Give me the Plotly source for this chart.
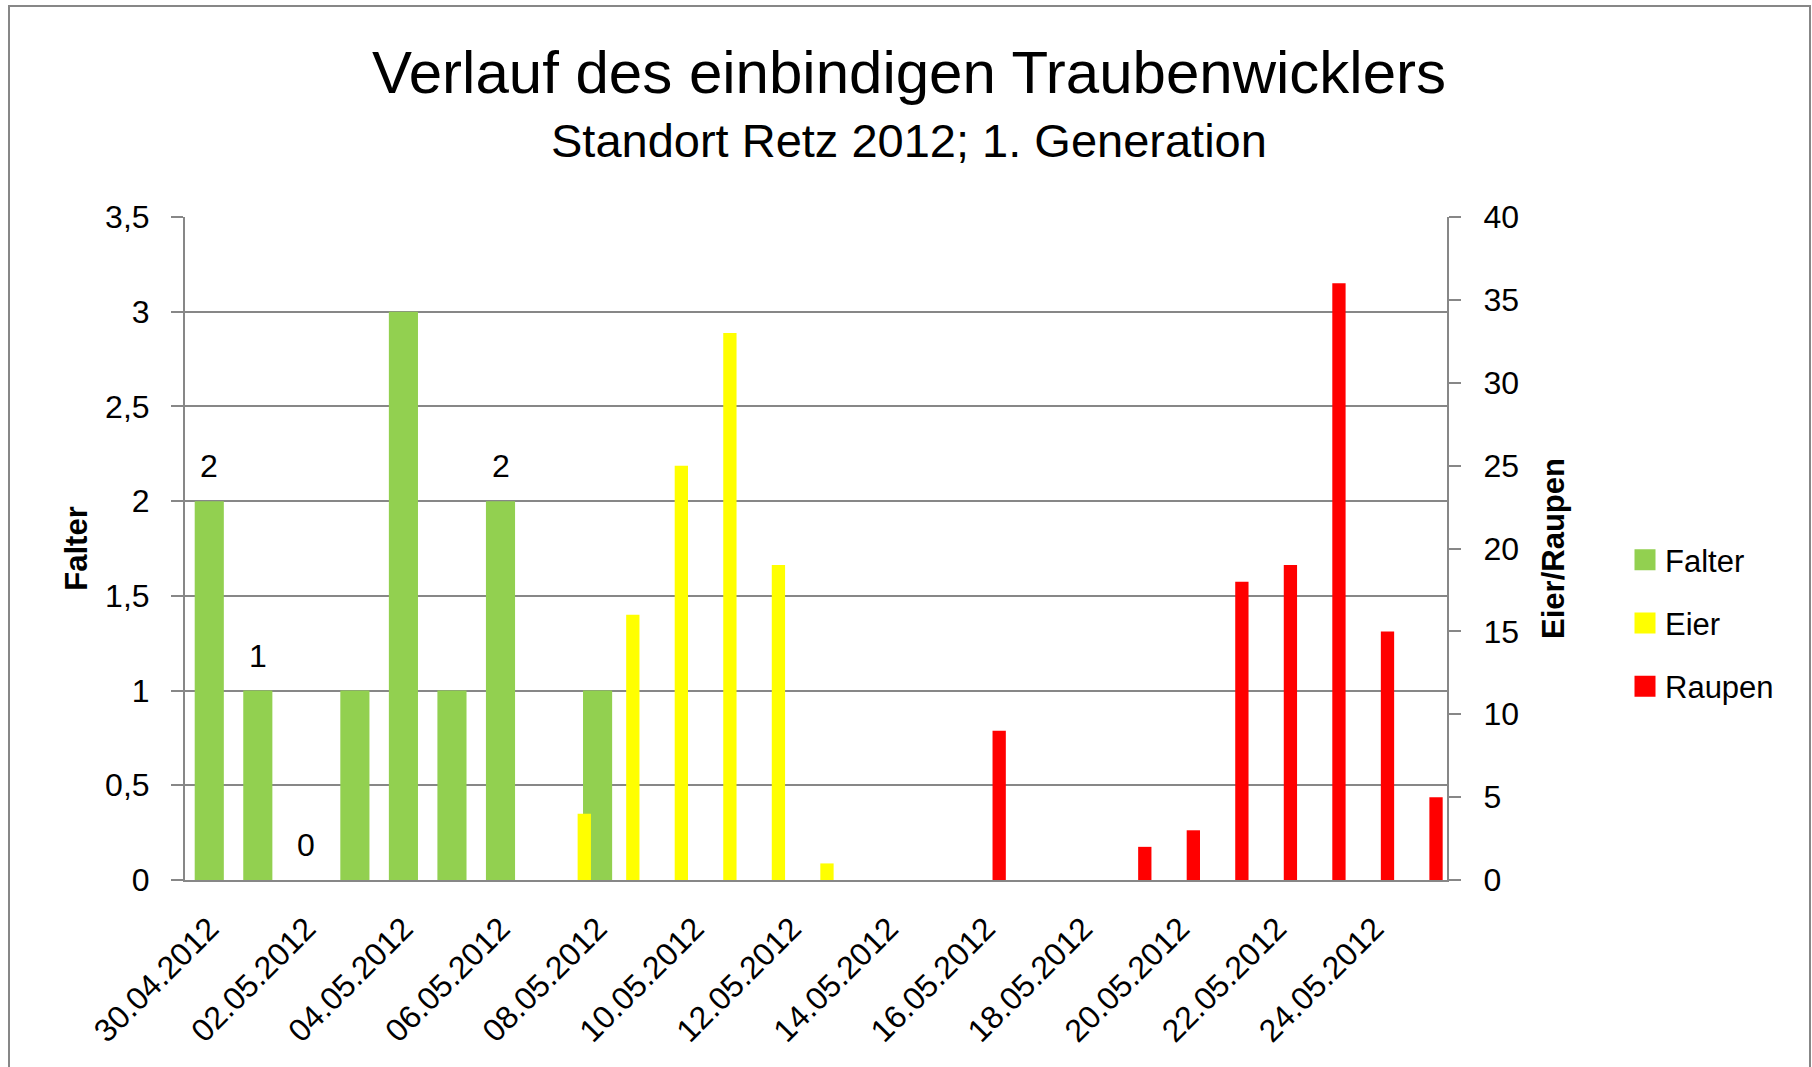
import plotly.graph_objects as go

# ---------------- data ----------------
dates = ["30.04.2012", "01.05.2012", "02.05.2012", "03.05.2012", "04.05.2012",
         "05.05.2012", "06.05.2012", "07.05.2012", "08.05.2012", "09.05.2012",
         "10.05.2012", "11.05.2012", "12.05.2012", "13.05.2012", "14.05.2012",
         "15.05.2012", "16.05.2012", "17.05.2012", "18.05.2012", "19.05.2012",
         "20.05.2012", "21.05.2012", "22.05.2012", "23.05.2012", "24.05.2012",
         "25.05.2012"]
tick_labels = ["30.04.2012", "02.05.2012", "04.05.2012", "06.05.2012", "08.05.2012",
               "10.05.2012", "12.05.2012", "14.05.2012", "16.05.2012", "18.05.2012",
               "20.05.2012", "22.05.2012", "24.05.2012"]
falter = [2, 1, 0, 1, 3, 1, 2, None, 1, None, None, None, None,
          None, None, None, None, None, None, None, None, None, None, None, None, None]
eier = [None, None, None, None, None, None, None, None, 4, 16, 25, 33, 19,
        1, None, None, None, None, None, None, None, None, None, None, None, None]
raupen = [None, None, None, None, None, None, None, None, None, None, None, None, None,
          None, None, None, 9, None, None, 2, 3, 18, 19, 36, 15, 5]
labelled_dates = ["30.04.2012", "01.05.2012", "02.05.2012", "06.05.2012"]
series_names = ["Falter", "Eier", "Raupen"]
colors = ["#92D050", "#FFFF00", "#FF0000"]

# ---------------- layout constants ----------------
W, H = 1812, 1067
L, R, T, B = 185, 365, 217, 187
PW, PH = W - L - R, H - T - B
GRID = "#878787"
FONT = "Liberation Sans, Arial, sans-serif"


def px_x(px):
    return (px - L) / PW


def px_y(py):
    return (H - B - py) / PH


fig = go.Figure()

fig.add_trace(go.Bar(x=dates, y=falter, name="Falter", marker=dict(color=colors[0], line=dict(width=0)),
                     width=0.6, offset=-0.3, showlegend=False, yaxis="y"))
fig.add_trace(go.Bar(x=dates, y=eier, name="Eier", marker=dict(color=colors[1], line=dict(width=0)),
                     width=0.274, offset=-0.411, showlegend=False, yaxis="y2"))
fig.add_trace(go.Bar(x=dates, y=raupen, name="Raupen", marker=dict(color=colors[2], line=dict(width=0)),
                     width=0.274, offset=0.137, showlegend=False, yaxis="y2"))

# legend entries (square keys)
for nm, col in zip(series_names, colors):
    fig.add_trace(go.Scatter(x=[None], y=[None], mode="markers", name=nm, legendgroup=nm,
                             marker=dict(symbol="square", size=16, color=col,
                                         line=dict(width=5, color=col)),
                             showlegend=True, yaxis="y"))

# data labels for Falter
for d in labelled_dates:
    v = falter[dates.index(d)]
    fig.add_annotation(x=d, y=v, xref="x", yref="y", text=str(v), showarrow=False,
                       yanchor="bottom", yshift=15, font=dict(family=FONT, size=32, color="black"))

# subtitle
fig.add_annotation(x=px_x(909), y=px_y(141), xref="paper", yref="paper",
                   text="Standort Retz 2012; 1. Generation", showarrow=False,
                   xanchor="center", yanchor="middle",
                   font=dict(family=FONT, size=47, color="black"))

# outer border
fig.add_shape(type="rect", xref="paper", yref="paper",
              x0=px_x(9), x1=px_x(1810), y0=px_y(1080), y1=px_y(6),
              line=dict(color=GRID, width=2), fillcolor="rgba(0,0,0,0)", layer="below")

fig.update_layout(
    width=W, height=H,
    margin=dict(l=L, r=R, t=T, b=B, pad=0, autoexpand=False),
    paper_bgcolor="white", plot_bgcolor="white",
    separators=", ",
    barmode="overlay",
    title=dict(text="Verlauf des einbindigen Traubenwicklers", xref="container", yref="container",
               x=909 / W, y=1 - 72 / H, xanchor="center", yanchor="middle",
               font=dict(family=FONT, size=60, color="black")),
    font=dict(family=FONT, size=32, color="black"),
    xaxis=dict(type="category", range=[-0.5, 25.5], tickmode="array", tickvals=tick_labels,
               ticktext=tick_labels, tickangle=-45, ticks="", showgrid=False, automargin=False,
               showline=True, linecolor=GRID, linewidth=2, ticklabelstandoff=15,
               tickfont=dict(family=FONT, size=32, color="black"), zeroline=False),
    yaxis=dict(range=[0, 3.5], dtick=0.5, showgrid=True, gridcolor=GRID, gridwidth=2,
               showline=True, linecolor=GRID, linewidth=2, ticks="outside", ticklen=12,
               tickcolor=GRID, tickwidth=2, zeroline=False, ticklabelstandoff=15, automargin=False,
               tickfont=dict(family=FONT, size=32, color="black"),
               title=dict(text="Falter", standoff=8,
                          font=dict(family=FONT, size=31, color="black", weight="bold"))),
    yaxis2=dict(range=[0, 40], dtick=5, overlaying="y", side="right", showgrid=False,
                showline=True, linecolor=GRID, linewidth=2, ticks="outside", ticklen=12,
                tickcolor=GRID, tickwidth=2, zeroline=False, ticklabelstandoff=16, automargin=False,
                tickfont=dict(family=FONT, size=32, color="black"),
                title=dict(text="Eier/Raupen", standoff=24,
                           font=dict(family=FONT, size=31, color="black", weight="bold"))),
    legend=dict(x=px_x(1625), y=px_y(533), xref="paper", yref="paper", xanchor="left", yanchor="top",
                font=dict(family=FONT, size=31, color="black"), tracegroupgap=20,
                bgcolor="rgba(0,0,0,0)", borderwidth=0, traceorder="grouped"),
)

fig.write_html("out.html", config={"displayModeBar": False},
               post_script="document.body.style.margin='0';document.body.style.overflow='hidden';")
